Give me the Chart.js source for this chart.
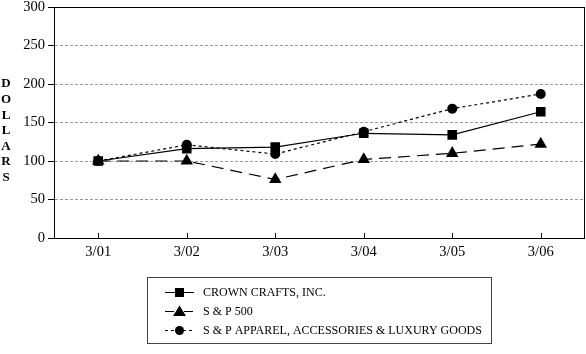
<!DOCTYPE html>
<html>
<head>
<meta charset="utf-8">
<script src="https://cdn.jsdelivr.net/npm/chart.js@4.4.0/dist/chart.umd.min.js"></script>
<style>
  body { margin: 0; background: #fff; }
  #wrap { width: 586px; height: 354px; }
</style>
</head>
<body>
<div id="wrap"><canvas id="perfChart" width="586" height="354"></canvas></div>
<script>
// values (dollars, 3/01 = 100)
const years = ['3/01', '3/02', '3/03', '3/04', '3/05', '3/06'];
const crownCrafts = [100, 116, 118, 136, 134, 164];
const sp500 = [100, 100, 76, 102, 110, 122];
const spApparel = [100, 121, 109, 138, 168, 187];
const seriesNames = ['CROWN CRAFTS, INC.', 'S & P 500', 'S & P APPAREL, ACCESSORIES & LUXURY GOODS'];
const yTitle = 'DOLLARS';

const serif = "'Liberation Serif', 'Times New Roman', serif";

function drawMarker(ctx, style, x, y) {
  ctx.beginPath();
  if (style === 'rect') {
    ctx.rect(x - 4.5, y - 4.5, 9, 9);
  } else if (style === 'triangle') {
    ctx.moveTo(x, y - 6);
    ctx.lineTo(x + 6.5, y + 4.5);
    ctx.lineTo(x - 6.5, y + 4.5);
    ctx.closePath();
  } else {
    ctx.arc(x, y, 4.5, 0, Math.PI * 2);
  }
  ctx.fill();
}

// frame, inward x ticks, vertical y title and the boxed legend
const extras = {
  id: 'extras',
  afterDraw(chart) {
    const ctx = chart.ctx;
    const area = chart.chartArea;
    const xScale = chart.scales.x;
    ctx.save();
    ctx.strokeStyle = '#000';
    ctx.lineWidth = 1;
    ctx.setLineDash([]);
    ctx.strokeRect(area.left + 0.5, area.top + 0.5, area.right - area.left - 1, area.bottom - area.top);

    years.forEach((y, i) => {
      const px = Math.round(xScale.getPixelForValue(i)) + 0.5;
      ctx.beginPath();
      ctx.moveTo(px, area.bottom);
      ctx.lineTo(px, area.bottom - 5);
      ctx.stroke();
    });

    ctx.fillStyle = '#000';
    ctx.font = 'bold 13px ' + serif;
    ctx.textAlign = 'center';
    ctx.textBaseline = 'middle';
    yTitle.split('').forEach((ch, i) => {
      ctx.fillText(ch, 6, 84 + i * 15.6);
    });

    // legend
    ctx.strokeStyle = '#444';
    ctx.strokeRect(147.5, 277.5, 344, 66);
    ctx.font = '12px ' + serif;
    ctx.textAlign = 'left';
    chart.data.datasets.forEach((ds, i) => {
      const ly = 292 + i * 19;
      ctx.strokeStyle = '#000';
      ctx.lineWidth = 1;
      ctx.setLineDash(i === 0 ? [] : (i === 1 ? [9, 4] : [3, 3]));
      ctx.beginPath();
      if (i === 1) {
        ctx.moveTo(165, ly + 0.5); ctx.lineTo(174, ly + 0.5);
        ctx.moveTo(184, ly + 0.5); ctx.lineTo(193, ly + 0.5);
      } else {
        ctx.moveTo(165, ly + 0.5); ctx.lineTo(194, ly + 0.5);
      }
      ctx.stroke();
      ctx.setLineDash([]);
      drawMarker(ctx, ds.pointStyle, 179.5, ly + 0.5);
      ctx.fillText(ds.label, 203, ly + 1);
    });
    ctx.restore();
  }
};

new Chart(document.getElementById('perfChart'), {
  type: 'line',
  data: {
    labels: years,
    datasets: [
      {
        label: seriesNames[0],
        data: crownCrafts,
        borderColor: '#000',
        backgroundColor: '#000',
        borderWidth: 1.2,
        pointStyle: 'rect',
        pointRadius: 6.8,
        pointBackgroundColor: '#000',
        pointBorderColor: '#000',
        pointBorderWidth: 0,
        fill: false,
        tension: 0
      },
      {
        label: seriesNames[1],
        data: sp500,
        borderColor: '#000',
        backgroundColor: '#000',
        borderWidth: 1.2,
        borderDash: [12, 7],
        pointStyle: 'triangle',
        pointRadius: 7.2,
        pointBackgroundColor: '#000',
        pointBorderColor: '#000',
        pointBorderWidth: 0,
        fill: false,
        tension: 0
      },
      {
        label: seriesNames[2],
        data: spApparel,
        borderColor: '#000',
        backgroundColor: '#000',
        borderWidth: 1.2,
        borderDash: [3, 3],
        pointStyle: 'circle',
        pointRadius: 5,
        pointBackgroundColor: '#000',
        pointBorderColor: '#000',
        pointBorderWidth: 0,
        fill: false,
        tension: 0
      }
    ]
  },
  options: {
    responsive: false,
    animation: false,
    events: [],
    layout: { autoPadding: false, padding: { top: 7, right: 1, left: 0, bottom: 0 } },
    plugins: {
      legend: { display: false },
      tooltip: { enabled: false },
      title: { display: false }
    },
    scales: {
      x: {
        offset: true,
        afterFit: (scale) => {
          scale.height = 116;
          scale.paddingLeft = 0;
          scale.paddingRight = 0;
        },
        grid: { display: false, drawTicks: false },
        border: { display: false },
        ticks: {
          padding: 5,
          color: '#000',
          font: { family: serif, size: 14.5 },
          maxRotation: 0
        }
      },
      y: {
        min: 0,
        max: 300,
        afterFit: (scale) => {
          scale.width = 54;
          scale.paddingTop = 0;
          scale.paddingBottom = 0;
        },
        ticks: {
          stepSize: 50,
          padding: 3,
          color: '#000',
          font: { family: serif, size: 14.5 }
        },
        grid: {
          color: (c) => (c.tick && (c.tick.value === 0 || c.tick.value === 300)) ? 'rgba(0,0,0,0)' : '#999',
          tickColor: '#000',
          tickLength: 6,
          lineWidth: 1
        },
        border: { display: true, color: '#000', width: 1, dash: [3, 2] }
      }
    }
  },
  plugins: [extras]
});
</script>
</body>
</html>
